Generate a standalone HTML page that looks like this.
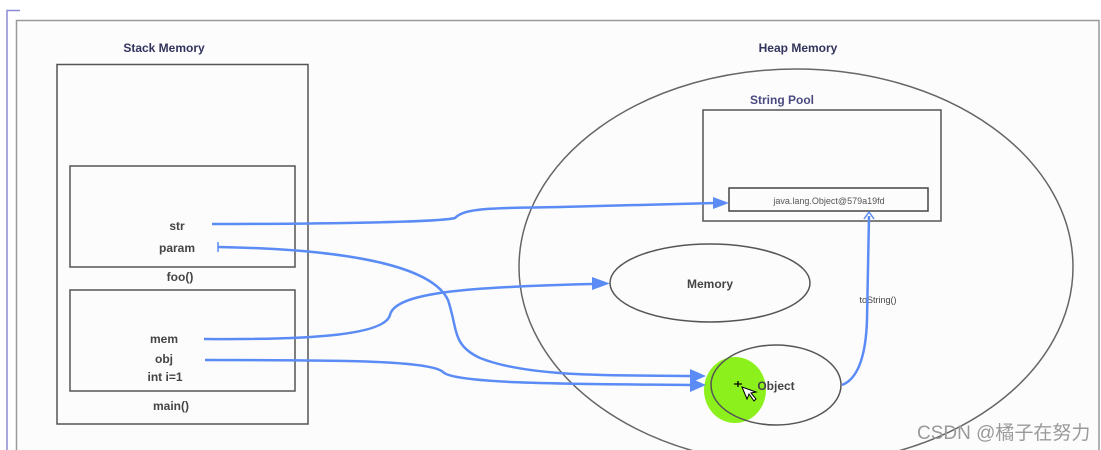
<!DOCTYPE html>
<html><head><meta charset="utf-8"><style>
html,body{margin:0;padding:0;background:#fff;}
svg{display:block;}
text{font-family:"Liberation Sans",Arial,sans-serif;}
</style></head><body>
<svg width="1101" height="450" viewBox="0 0 1101 450" xmlns="http://www.w3.org/2000/svg">
<rect x="0" y="0" width="1101" height="450" fill="#fff"/>
<path d="M7 450 V10.5 H20" fill="none" stroke="#8a8ad8" stroke-width="1.5"/>
<path d="M16.5 450 V20.5 H1099 V450" fill="#fcfcfc" stroke="#999" stroke-width="1.5"/>
<text x="164" y="52" font-size="12" font-weight="bold" fill="#33335e" text-anchor="middle">Stack Memory</text>
<text x="798" y="52" font-size="12" font-weight="bold" fill="#33335e" text-anchor="middle">Heap Memory</text>
<rect x="57" y="64.5" width="251" height="359.5" fill="none" stroke="#555" stroke-width="1.5"/>
<rect x="70" y="166" width="225" height="101" fill="none" stroke="#555" stroke-width="1.5"/>
<rect x="70" y="290" width="225" height="101" fill="none" stroke="#555" stroke-width="1.5"/>
<g font-size="12" font-weight="bold" fill="#444" text-anchor="middle">
<text x="177" y="230">str</text>
<text x="177" y="252">param</text>
<text x="180" y="281">foo()</text>
<text x="164" y="343">mem</text>
<text x="164" y="363">obj</text>
<text x="165" y="381">int i=1</text>
<text x="171" y="410">main()</text>
</g>
<ellipse cx="796" cy="267" rx="277" ry="198" fill="none" stroke="#666" stroke-width="1.5"/>
<text x="782" y="104" font-size="12" font-weight="bold" fill="#4a4a80" text-anchor="middle">String Pool</text>
<rect x="703" y="110" width="238" height="111" fill="none" stroke="#555" stroke-width="1.5"/>
<rect x="729" y="188" width="199" height="23" fill="none" stroke="#444" stroke-width="1.5"/>
<text x="829" y="204" font-size="9" fill="#555" text-anchor="middle">java.lang.Object@579a19fd</text>
<ellipse cx="710" cy="283" rx="100" ry="39" fill="none" stroke="#555" stroke-width="1.5"/>
<text x="710" y="288" font-size="12" font-weight="bold" fill="#444" text-anchor="middle">Memory</text>
<ellipse cx="735" cy="390" rx="31" ry="33" fill="#8cf01c"/>
<ellipse cx="776" cy="385" rx="65" ry="40" fill="none" stroke="#555" stroke-width="1.5"/>
<text x="776" y="390" font-size="12" font-weight="bold" fill="#444" text-anchor="middle">Object</text>
<path d="M742 387 l5 12 l2-5 l5 7 l2-2 l-5-6 l5-1 z" fill="#fff" stroke="#000" stroke-width="1"/>
<path d="M738 381 v6 M734 384 h8" stroke="#000" stroke-width="1.3"/>
<text x="878" y="303" font-size="9" fill="#444" text-anchor="middle">toString()</text>
<g fill="none" stroke="#5b8cf5" stroke-width="2.5">
<path d="M212 224 C330 224 440 222 455 218 C465 208 490 208 560 207 L715 203"/>
<path d="M218 247 C330 249 430 262 448 300 C458 330 452 345 480 358 C530 378 620 375 692 376"/>
<path d="M204 339 C320 340 385 334 390 315 C395 292 470 287 592 284"/>
<path d="M205 360 C330 360 430 360 443 372 C455 385 600 384 692 385"/>
<path d="M842 385 C860 378 866 350 867 320 L869 216"/>
</g>
<path d="M218 242 v10" stroke="#5b8cf5" stroke-width="1.5"/>
<g fill="#5b8cf5">
<path d="M713 197 L729 203 L713 209 Z"/>
<path d="M592 277 L610 283.5 L592 290 Z"/>
<path d="M690 369 L706 376 L690 383 Z"/>
<path d="M690 378 L706 385 L690 392 Z"/>
</g>
<path d="M864 219 L869 212 L874 219" fill="none" stroke="#5b8cf5" stroke-width="1.5"/>
<text x="917" y="439" font-size="19" fill="#9a9a9a" font-family="Liberation Sans, Noto Sans CJK SC, sans-serif" style="font-family:'Liberation Sans','Noto Sans CJK SC',sans-serif">CSDN @橘子在努力</text>
</svg>
</body></html>
